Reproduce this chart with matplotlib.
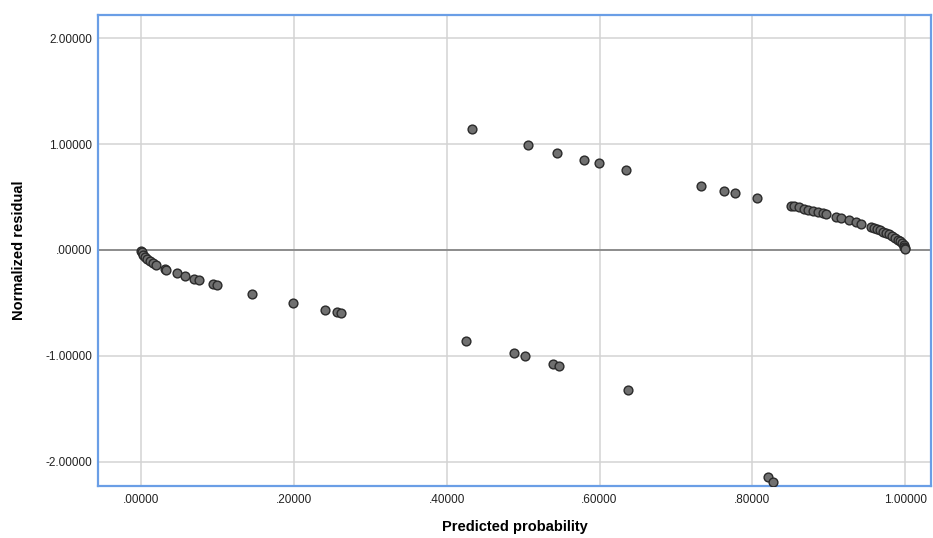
import numpy as np
import matplotlib.pyplot as plt
from matplotlib.ticker import FuncFormatter

plt.rcParams['font.family'] = ['Liberation Sans', 'DejaVu Sans']

# ── data ────────────────────────────────────────────────────────────────────
# observed = 1 cases (upper branch)
prob_hi = [0.4325, 0.507, 0.544, 0.579, 0.599, 0.635, 0.733, 0.763, 0.777,
           0.806, 0.851, 0.855, 0.861, 0.867, 0.873, 0.880, 0.886, 0.893,
           0.897, 0.910, 0.916, 0.927, 0.936, 0.942, 0.955, 0.959, 0.963,
           0.967, 0.971, 0.975, 0.979, 0.983, 0.987, 0.991, 0.9935, 0.996,
           0.998, 0.999, 0.9995, 0.9999]
resid_hi = [1.145, 0.986, 0.916, 0.853, 0.818, 0.758, 0.604, 0.557, 0.536,
            0.490, 0.419, 0.412, 0.402, 0.391, 0.381, 0.369, 0.358, 0.346,
            0.339, 0.315, 0.303, 0.281, 0.261, 0.248, 0.217, 0.206, 0.196,
            0.185, 0.174, 0.160, 0.146, 0.131, 0.115, 0.095, 0.081, 0.063,
            0.045, 0.032, 0.022, 0.010]

# observed = 0 cases (lower branch)
prob_lo = [0.0001, 0.0005, 0.002, 0.005, 0.0079, 0.011, 0.0157, 0.020,
           0.0315, 0.033, 0.047, 0.0577, 0.0695, 0.076, 0.0943, 0.0996,
           0.1455, 0.199, 0.241, 0.257, 0.262, 0.4246, 0.4875, 0.502,
           0.5387, 0.5465, 0.637, 0.8205, 0.827]
resid_lo = [-0.010, -0.022, -0.045, -0.071, -0.089, -0.105, -0.126, -0.143,
            -0.180, -0.185, -0.222, -0.247, -0.273, -0.287, -0.323, -0.333,
            -0.413, -0.499, -0.564, -0.588, -0.596, -0.859, -0.975, -1.004,
            -1.080, -1.098, -1.325, -2.140, -2.186]

x_ticks = [0.0, 0.2, 0.4, 0.6, 0.8, 1.0]
y_ticks = [-2.0, -1.0, 0.0, 1.0, 2.0]


def spss_fmt(v, _pos):
    s = f'{v:.5f}'
    if s.startswith('0.'):
        s = s[1:]
    elif s.startswith('-0.'):
        s = '-' + s[2:]
    return s


fig = plt.figure(figsize=(9.33, 5.38), dpi=100)
fig.patch.set_facecolor('white')
ax = fig.add_axes([0.105, 0.097, 0.893, 0.875])

ax.set_xlim(-0.0565, 1.034)
ax.set_ylim(-2.226, 2.217)

ax.set_xticks(x_ticks)
ax.set_yticks(y_ticks)
ax.xaxis.set_major_formatter(FuncFormatter(spss_fmt))
ax.yaxis.set_major_formatter(FuncFormatter(spss_fmt))
ax.tick_params(length=0, labelsize=8.5, colors='#222222')
ax.tick_params(axis='x', pad=6)
ax.tick_params(axis='y', pad=4)

ax.grid(True, color='#d3d3d3', linewidth=1.1)
ax.set_axisbelow(True)
ax.axhline(0, color='#808080', linewidth=1.2, zorder=1)

for sp in ax.spines.values():
    sp.set_color('#6a9ee6')
    sp.set_linewidth(1.6)

ax.scatter(prob_lo + prob_hi, resid_lo + resid_hi, s=40, c='#707070',
           edgecolors='#2a2a2a', linewidths=1.0, zorder=3)

ax.set_xlabel('Predicted probability', fontsize=10.5, fontweight='bold',
              labelpad=10)
ax.set_ylabel('Normalized residual', fontsize=10.5, fontweight='bold',
              labelpad=14)

fig.savefig('out.png', dpi=100, facecolor='white')
